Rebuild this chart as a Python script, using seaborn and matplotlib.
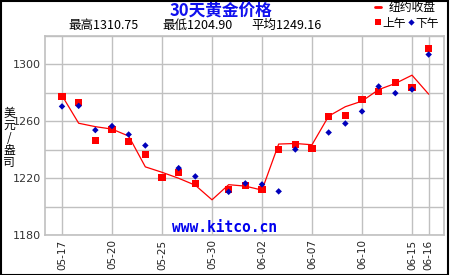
import matplotlib
matplotlib.use('Agg')
import matplotlib.pyplot as plt
import seaborn as sns
import numpy as np
import pandas as pd
from matplotlib.patches import Rectangle
from matplotlib.lines import Line2D

# ---- data ----
dates = ['05-17', '05-18', '05-19', '05-20', '05-23', '05-24', '05-25', '05-26',
         '05-27', '05-30', '05-31', '06-01', '06-02', '06-03', '06-06', '06-07',
         '06-08', '06-09', '06-10', '06-13', '06-14', '06-15', '06-16']
ny_close = [1278.0, 1258.6, 1256.2, 1254.5, 1249.6, 1228.0, 1224.2, 1220.0,
            1215.1, 1204.9, 1215.5, 1214.5, 1211.7, 1244.0, 1244.4, 1243.5,
            1263.6, 1270.2, 1274.1, 1282.2, 1286.5, 1292.3, 1279.0]
am_fix = [1277.6, 1273.2, 1246.8, 1254.2, 1246.1, 1236.7, 1220.6, 1224.0,
          1216.4, np.nan, 1212.4, 1214.8, 1212.4, 1240.2, 1243.7, 1240.9,
          1263.3, 1264.0, 1275.3, 1280.9, 1287.2, 1283.7, 1310.75]
pm_fix = [1270.4, 1270.8, 1253.8, 1256.6, 1250.7, 1243.0, np.nan, 1227.1,
          1221.3, np.nan, 1210.5, 1216.4, 1215.7, 1210.8, 1240.2, np.nan,
          1252.1, 1258.4, 1266.9, 1284.4, 1279.7, 1282.3, 1306.8]
tick_dates = ['05-17', '05-20', '05-25', '05-30', '06-02', '06-07', '06-10', '06-15', '06-16']
y_label_values = [1180, 1220, 1260, 1300]

title = '30天黄金价格'
stats = ['最高1310.75', '最低1204.90', '平均1249.16']
legend_close = '纽约收盘'
legend_am = '上午'
legend_pm = '下午'
ylabel = '美元/盎司'
watermark = 'www.kitco.cn'

sns.set_theme(style='white')
plt.rcParams['font.family'] = ['Noto Sans CJK SC', 'DejaVu Sans']

W, H = 450, 275
fig = plt.figure(figsize=(4.5, 2.75), dpi=100)
fig.patch.set_facecolor('white')

left, right, top, bottom = 45, 444, 35.7, 235.3
ax = fig.add_axes([left / W, 1 - bottom / H, (right - left) / W, (bottom - top) / H])

df = pd.DataFrame({'idx': np.arange(len(dates)), 'date': dates,
                   'close': ny_close, 'am': am_fix, 'pm': pm_fix})

grid_c = '#c0c0c0'
tick_idx = [dates.index(d) for d in tick_dates]
ax.set_xticks(tick_idx)
ax.set_xticklabels(tick_dates, rotation=90, fontsize=7.5, color='#222222',
                   family=['DejaVu Sans'])
yt = list(range(1180, 1321, 20))
ax.set_yticks(yt)
ax.set_yticklabels([str(v) if v in y_label_values else '' for v in yt],
                   fontsize=8, color='#333333', family=['DejaVu Sans'])
ax.tick_params(length=0, pad=3)
ax.grid(True, color=grid_c, lw=1)
ax.set_axisbelow(True)
for s in ax.spines.values():
    s.set_color(grid_c)
    s.set_linewidth(1.2)

sns.lineplot(data=df, x='idx', y='close', color='red', lw=0.9, ax=ax, zorder=3)
sns.scatterplot(data=df, x='idx', y='am', marker='s', color='#ff0000', s=26,
                edgecolor='none', linewidth=0, ax=ax, zorder=4)
sns.scatterplot(data=df, x='idx', y='pm', marker='D', color='#0000bb', s=11,
                edgecolor='none', linewidth=0, ax=ax, zorder=5)

ax.set_xlim(-1.02, 22.92)
ax.set_ylim(1180, 1320)
ax.set_xlabel('')
ax.set_ylabel('')

# title & stats
fig.text(221 / W, 1 - 11 / H, title, ha='center', va='center', fontsize=12,
         color='#1010ee', fontweight='bold')
for xs, s in zip([68, 162, 251], stats):
    fig.text(xs / W, 1 - 25 / H, s, ha='left', va='center', fontsize=9,
             color='black', fontweight='medium')

# legend
fig.add_artist(Line2D([375 / W, 381 / W], [1 - 7 / H, 1 - 7 / H], color='red', lw=2))
fig.text(389 / W, 1 - 7 / H, legend_close, ha='left', va='center', fontsize=8.5, color='black')
fig.add_artist(Line2D([378 / W], [1 - 22 / H], marker='s', color='red', ms=4.5, mew=0, ls='none'))
fig.text(382 / W, 1 - 23 / H, legend_am, ha='left', va='center', fontsize=8.5, color='black')
fig.add_artist(Line2D([411 / W], [1 - 22 / H], marker='D', color='#0000bb', ms=3.2, mew=0, ls='none'))
fig.text(415 / W, 1 - 23 / H, legend_pm, ha='left', va='center', fontsize=8.5, color='black')

# y label: stacked characters in one text
fig.text(9 / W, 1 - 138 / H, '\n'.join(ylabel), ha='center', va='center',
         fontsize=8.5, color='black', linespacing=0.93)

# watermark
fig.text(225 / W, 1 - 228 / H, watermark, ha='center', va='center', fontsize=10.5,
         color='#0000ee', fontweight='bold', family=['DejaVu Sans Mono'])

# border
fig.add_artist(Rectangle((0.5 / W, 0.5 / H), (W - 2.5) / W, (H - 1.5) / H,
                         transform=fig.transFigure, fill=False, ec='black', lw=1.5))

fig.savefig('out.png', dpi=100, facecolor='white')
